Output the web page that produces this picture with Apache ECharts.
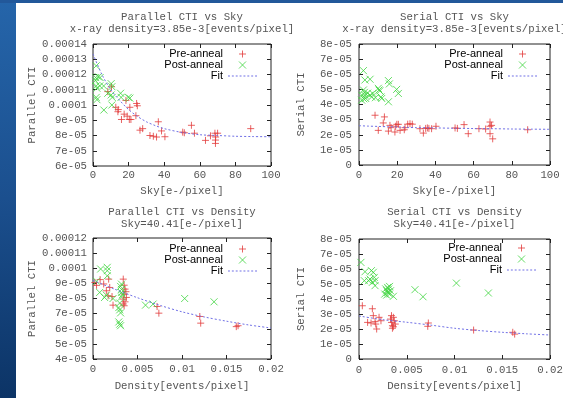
<!DOCTYPE html>
<html>
<head>
<meta charset="utf-8">
<script src="https://cdn.jsdelivr.net/npm/echarts@6.0.0/dist/echarts.min.js"></script>
<style>
  html, body { margin: 0; padding: 0; background: #fff; }
  #chart { width: 563px; height: 398px; }
</style>
</head>
<body>
<div id="chart"></div>
<script>
// ---- data (CTI values in units written as e-5) ----
const parSkyPre = [
  [8.3, 10.88e-5], [10.4, 11.2e-5], [12.8, 9.85e-5], [14.2, 9.7e-5], [14.0, 9.56e-5],
  [16.0, 9.05e-5], [17.5, 9.4e-5], [18.5, 10.3e-5], [19.2, 9.27e-5], [20.4, 9.05e-5],
  [20.7, 9.85e-5], [21.3, 9.05e-5], [24.1, 9.3e-5], [24.5, 10.1e-5], [24.9, 9.95e-5],
  [26.4, 8.35e-5], [27.9, 8.45e-5], [32.0, 8.0e-5], [33.9, 7.95e-5], [35.7, 7.9e-5],
  [36.7, 8.9e-5], [38.5, 8.3e-5], [40.4, 7.92e-5], [50.4, 8.22e-5], [51.3, 8.18e-5],
  [55.3, 8.67e-5], [57.0, 8.15e-5], [63.2, 7.68e-5], [66.0, 7.98e-5], [68.5, 8.15e-5],
  [68.9, 7.9e-5], [68.8, 7.7e-5], [68.8, 7.48e-5], [70.0, 8.15e-5], [88.6, 8.45e-5]
];
const parSkyPost = [
  [1.8, 12.57e-5], [1.5, 11.8e-5], [3.0, 11.85e-5], [4.0, 11.8e-5], [1.4, 11.6e-5],
  [1.8, 11.25e-5], [2.2, 11.1e-5], [1.8, 10.5e-5], [2.2, 10.35e-5], [3.8, 11.25e-5],
  [6.0, 11.25e-5], [6.1, 9.67e-5], [8.3, 10.77e-5], [10.2, 11.4e-5], [10.6, 11.2e-5],
  [10.2, 10.66e-5], [10.8, 10.5e-5], [10.6, 10.0e-5], [15.5, 10.77e-5], [15.8, 10.5e-5],
  [19.8, 10.5e-5], [20.7, 10.45e-5]
];
const serSkyPre = [
  [8.4, 3.29e-5], [13.3, 3.18e-5], [10.1, 2.29e-5], [12.7, 2.78e-5], [15.4, 2.24e-5],
  [16.2, 2.62e-5], [16.8, 2.47e-5], [18.8, 2.18e-5], [19.2, 2.56e-5], [19.8, 2.69e-5],
  [20.6, 2.69e-5], [21.5, 2.29e-5], [23.7, 2.33e-5], [24.1, 2.47e-5], [25.5, 2.7e-5],
  [26.7, 2.73e-5], [27.9, 2.7e-5], [31.9, 2.4e-5], [33.7, 2.11e-5], [34.9, 2.42e-5],
  [35.8, 2.45e-5], [36.6, 2.42e-5], [38.0, 2.4e-5], [40.3, 2.56e-5], [50.3, 2.45e-5],
  [51.5, 2.42e-5], [55.0, 2.67e-5], [57.2, 2.07e-5], [62.8, 2.4e-5], [66.3, 2.38e-5],
  [68.6, 2.84e-5], [68.6, 2.56e-5], [69.4, 2.62e-5], [68.6, 2.07e-5], [70.0, 1.73e-5],
  [88.3, 2.33e-5]
];
const serSkyPost = [
  [2.3, 6.24e-5], [3.1, 5.62e-5], [5.8, 5.67e-5], [2.3, 4.96e-5], [3.0, 4.62e-5],
  [2.5, 4.38e-5], [1.4, 4.29e-5], [1.6, 4.6e-5], [2.8, 4.8e-5], [3.5, 4.4e-5],
  [4.5, 4.75e-5], [5.8, 4.62e-5], [6.6, 4.5e-5], [7.2, 4.73e-5], [8.6, 4.45e-5],
  [10.1, 5.07e-5], [10.5, 4.96e-5], [10.9, 4.9e-5], [11.5, 4.5e-5], [11.9, 4.4e-5],
  [15.4, 5.58e-5], [15.9, 5.36e-5], [15.4, 4.18e-5], [19.7, 5.0e-5], [20.6, 4.73e-5]
];
const parDenPre = [
  [0.0002, 9.06e-5], [0.0004, 8.87e-5], [0.0008, 9.25e-5], [0.0012, 8.96e-5], [0.0015, 8.51e-5],
  [0.00176, 9.28e-5], [0.00188, 8.73e-5], [0.0017, 8.18e-5], [0.00214, 8.13e-5], [0.00225, 7.56e-5],
  [0.0034, 9.28e-5], [0.0035, 8.88e-5], [0.0036, 8.62e-5], [0.0035, 8.29e-5], [0.0034, 7.96e-5],
  [0.0036, 7.78e-5], [0.0034, 7.64e-5], [0.0035, 7.52e-5], [0.00375, 8.07e-5], [0.0037, 8.45e-5],
  [0.0072, 7.47e-5], [0.0074, 7.03e-5], [0.012, 6.81e-5], [0.0121, 6.37e-5], [0.0161, 6.14e-5],
  [0.0163, 6.2e-5]
];
const parDenPost = [
  [0.0004, 9.14e-5], [0.00086, 9.95e-5], [0.0016, 10.06e-5], [0.0016, 9.84e-5], [0.0016, 9.5e-5],
  [0.0015, 8.22e-5], [0.00075, 8.4e-5], [0.0013, 8.07e-5], [0.00225, 8.0e-5], [0.003, 7.7e-5],
  [0.0029, 7.4e-5], [0.003, 7.25e-5], [0.0031, 7.05e-5], [0.0032, 8.1e-5], [0.0033, 8.25e-5],
  [0.0032, 8.4e-5], [0.0032, 8.6e-5], [0.0031, 8.8e-5], [0.0032, 8.95e-5], [0.0029, 6.45e-5],
  [0.003, 6.3e-5], [0.0031, 6.2e-5], [0.0059, 7.56e-5], [0.00675, 7.63e-5], [0.0103, 8.0e-5],
  [0.0136, 7.78e-5]
];
const serDenPre = [
  [0.00035, 3.55e-5], [0.0009, 2.44e-5], [0.00126, 2.4e-5], [0.0015, 2.89e-5], [0.0014, 3.35e-5],
  [0.00168, 2.49e-5], [0.00175, 2.33e-5], [0.00185, 2.0e-5], [0.0021, 2.78e-5], [0.0023, 2.55e-5],
  [0.0033, 2.66e-5], [0.0034, 2.44e-5], [0.0035, 2.22e-5], [0.0035, 2.05e-5], [0.0036, 2.78e-5],
  [0.0037, 2.55e-5], [0.0038, 2.33e-5], [0.0034, 2.89e-5], [0.0036, 2.15e-5], [0.00726, 2.4e-5],
  [0.0072, 2.18e-5], [0.012, 1.93e-5], [0.0161, 1.78e-5], [0.0163, 1.66e-5]
];
const serDenPost = [
  [0.0002, 6.44e-5], [0.00063, 5.82e-5], [0.00056, 5.22e-5], [0.001, 5.22e-5], [0.0013, 5.89e-5],
  [0.0015, 5.78e-5], [0.0016, 5.44e-5], [0.00168, 5.22e-5], [0.00168, 4.89e-5], [0.0014, 5.11e-5],
  [0.00115, 5.33e-5], [0.0028, 4.67e-5], [0.0029, 4.55e-5], [0.003, 4.77e-5], [0.003, 4.44e-5],
  [0.0031, 4.66e-5], [0.0032, 4.33e-5], [0.0033, 4.55e-5], [0.0027, 4.33e-5], [0.0029, 4.26e-5],
  [0.0032, 4.84e-5], [0.0036, 4.18e-5], [0.00586, 4.62e-5], [0.0067, 4.15e-5], [0.0102, 5.06e-5],
  [0.01355, 4.4e-5]
];

// fit curves
const skyFitX = [0, 5, 10, 15, 20, 25, 30, 35, 40, 50, 60, 70, 80, 90, 100];
const parSkyFit = [13.35e-5, 12.0e-5, 11.0e-5, 10.3e-5, 9.7e-5, 9.25e-5, 8.9e-5, 8.65e-5, 8.45e-5,
  8.2e-5, 8.05e-5, 8.0e-5, 7.95e-5, 7.93e-5, 7.92e-5];
const serSkyFit = [2.6e-5, 2.57e-5, 2.55e-5, 2.53e-5, 2.51e-5, 2.49e-5, 2.47e-5, 2.46e-5, 2.45e-5,
  2.43e-5, 2.41e-5, 2.4e-5, 2.38e-5, 2.37e-5, 2.36e-5];
const denFitX = [0, 0.0025, 0.005, 0.0075, 0.01, 0.0125, 0.015, 0.0175, 0.02];
const parDenFit = [9.2e-5, 8.6e-5, 8.05e-5, 7.55e-5, 7.12e-5, 6.78e-5, 6.5e-5, 6.25e-5, 6.05e-5];
const serDenFit = [2.87e-5, 2.62e-5, 2.45e-5, 2.26e-5, 2.05e-5, 1.9e-5, 1.78e-5, 1.68e-5, 1.6e-5];

const legendNames = ['Pre-anneal', 'Post-anneal', 'Fit'];

// ---- styling ----
const MONO = 'Liberation Mono';
const SANS = 'Liberation Sans';
const TXT = '#555';
const FRAME = '#222';
const PRE_COLOR = '#e23c3c';
const POST_COLOR = '#3fd43f';
const FIT_COLOR = '#7070e6';
const plusPath = 'path://M0,5L10,5M5,0L5,10';
const crossPath = 'path://M0,0L10,10M10,0L0,10';
// dashed sample for the Fit legend key
let dashPath = 'path://';
for (let k = 0; k < 29; k += 4) dashPath += 'M' + k + ',0h2v1h-2z';

function gfmt(v) {
  v = Number(v.toPrecision(8));
  if (v === 0) return '0';
  if (Math.abs(v) < 1e-4) return v.toExponential().replace(/e-(\d)$/, 'e-0$1');
  return String(v);
}

const panels = [
  {
    title: 'Parallel CTI vs Sky\nx-ray density=3.85e-3[events/pixel]', cx: 182, ty: 11,
    grid: { left: 93, top: 44, width: 178, height: 122 },
    xName: 'Sky[e-/pixel]', xr: [0, 100, 20], xGap: 19.5, xMargin: 3.5,
    yName: 'Parallel CTI', yr: [6e-5, 14e-5, 1e-5], yGap: 55, yMargin: 6,
    pre: parSkyPre, post: parSkyPost, fitX: skyFitX, fitY: parSkyFit,
    legend: { right: 306, top: 48.5 }
  },
  {
    title: 'Serial CTI vs Sky\nx-ray density=3.85e-3[events/pixel]', cx: 454.5, ty: 11,
    grid: { left: 359, top: 44, width: 191, height: 121 },
    xName: 'Sky[e-/pixel]', xr: [0, 100, 20], xGap: 20.5, xMargin: 5,
    yName: 'Serial CTI', yr: [0, 8e-5, 1e-5], yGap: 52, yMargin: 7,
    pre: serSkyPre, post: serSkyPost, fitX: skyFitX, fitY: serSkyFit,
    legend: { right: 26, top: 48.5 }
  },
  {
    title: 'Parallel CTI vs Density\nSky=40.41[e-/pixel]', cx: 182, ty: 206.3,
    grid: { left: 93, top: 238, width: 178, height: 121 },
    xName: 'Density[events/pixel]', xr: [0, 0.02, 0.005], xGap: 22, xMargin: 5,
    yName: 'Parallel CTI', yr: [4e-5, 12e-5, 1e-5], yGap: 55, yMargin: 6,
    pre: parDenPre, post: parDenPost, fitX: denFitX, fitY: parDenFit,
    legend: { right: 306, top: 243.5 }
  },
  {
    title: 'Serial CTI vs Density\nSky=40.41[e-/pixel]', cx: 454.5, ty: 206.3,
    grid: { left: 359, top: 239, width: 191, height: 120 },
    xName: 'Density[events/pixel]', xr: [0, 0.02, 0.005], xGap: 22, xMargin: 6,
    yName: 'Serial CTI', yr: [0, 8e-5, 1e-5], yGap: 52, yMargin: 7,
    pre: serDenPre, post: serDenPost, fitX: denFitX, fitY: serDenFit,
    legend: { right: 27, top: 242.5 }
  }
];

const labelStyle = { fontFamily: MONO, fontSize: 10.7, color: TXT };
const tick = { inside: true, length: 4, lineStyle: { color: FRAME, width: 1 } };

function axis(gi, pos, r, extra) {
  return Object.assign({
    type: 'value', gridIndex: gi, position: pos,
    min: r[0], max: r[1], interval: r[2],
    axisLine: { show: false, onZero: false },
    axisTick: tick,
    splitLine: { show: false },
    axisLabel: { show: false },
    silent: true
  }, extra);
}

const grid = [], xAxis = [], yAxis = [], series = [], title = [], legend = [];

panels.forEach((p, i) => {
  grid.push(Object.assign({
    show: true, borderColor: FRAME, borderWidth: 1, backgroundColor: 'transparent',
    containLabel: false, outerBoundsMode: 'none'
  }, p.grid));

  xAxis.push(axis(i, 'bottom', p.xr, {
    name: p.xName, nameLocation: 'middle', nameGap: p.xGap, nameTextStyle: labelStyle,
    axisLabel: Object.assign({ show: true, margin: p.xMargin, formatter: gfmt, showMinLabel: true, showMaxLabel: true }, labelStyle)
  }));
  xAxis.push(axis(i, 'top', p.xr, {}));

  yAxis.push(axis(i, 'left', p.yr, {
    name: p.yName, nameLocation: 'middle', nameGap: p.yGap, nameTextStyle: labelStyle,
    axisLabel: Object.assign({ show: true, margin: p.yMargin, formatter: gfmt, showMinLabel: true, showMaxLabel: true }, labelStyle)
  }));
  yAxis.push(axis(i, 'right', p.yr, {}));

  title.push({
    text: p.title, left: p.cx, top: p.ty, padding: 0,
    textAlign: 'center', textVerticalAlign: 'top',
    textStyle: { fontFamily: MONO, fontSize: 10.7, fontWeight: 'normal', color: TXT, lineHeight: 12 }
  });

  legend.push({
    orient: 'vertical', align: 'right', right: p.legend.right, top: p.legend.top,
    padding: 0, itemGap: 0, itemWidth: 29, itemHeight: 7, selectedMode: false,
    textStyle: { fontFamily: SANS, fontSize: 11, color: '#000', lineHeight: 11 },
    data: [
      { name: legendNames[0], icon: plusPath, itemStyle: { color: 'transparent', borderColor: PRE_COLOR, borderWidth: 1 } },
      { name: legendNames[1], icon: crossPath, itemStyle: { color: 'transparent', borderColor: POST_COLOR, borderWidth: 1 } },
      { name: legendNames[2], icon: dashPath, itemStyle: { color: FIT_COLOR, borderWidth: 0 } }
    ]
  });

  const ax = 2 * i;
  series.push({
    type: 'scatter', name: legendNames[0], xAxisIndex: ax, yAxisIndex: ax,
    data: p.pre, symbol: plusPath, symbolSize: 7, silent: true,
    itemStyle: { color: 'transparent', borderColor: PRE_COLOR, borderWidth: 1 }
  });
  series.push({
    type: 'scatter', name: legendNames[1], xAxisIndex: ax, yAxisIndex: ax,
    data: p.post, symbol: crossPath, symbolSize: 7, silent: true,
    itemStyle: { color: 'transparent', borderColor: POST_COLOR, borderWidth: 1 }
  });
  series.push({
    type: 'line', name: legendNames[2], xAxisIndex: ax, yAxisIndex: ax,
    data: p.fitX.map((x, k) => [x, p.fitY[k]]),
    showSymbol: false, symbol: 'none', smooth: 0.3, silent: true,
    itemStyle: { color: FIT_COLOR },
    lineStyle: { color: FIT_COLOR, width: 1, type: [2, 2] }
  });
});

const chart = echarts.init(document.getElementById('chart'), null, { renderer: 'canvas' });
chart.setOption({
  animation: false,
  backgroundColor: '#fff',
  graphic: [
    { type: 'rect', left: 0, top: 0, shape: { width: 16, height: 398 }, silent: true, z: -10,
      style: { fill: new echarts.graphic.LinearGradient(0, 0, 0, 1, [
        { offset: 0, color: '#2565aa' }, { offset: 0.5, color: '#1b4f8e' }, { offset: 1, color: '#0c3466' }]) } },
    { type: 'rect', left: 0, top: 0, shape: { width: 563, height: 3 }, silent: true, z: -10,
      style: { fill: '#22589a' } }
  ],
  title, legend, grid, xAxis, yAxis, series
});
</script>
</body>
</html>
